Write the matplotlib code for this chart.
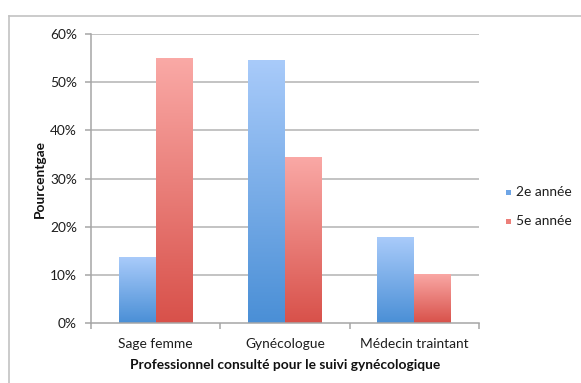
import numpy as np
import matplotlib
matplotlib.use("Agg")
import matplotlib.pyplot as plt
from matplotlib.colors import LinearSegmentedColormap
from matplotlib.lines import Line2D
from matplotlib.patches import Rectangle
from matplotlib.ticker import FuncFormatter, FixedLocator

categories = ["Sage femme", "Gynécologue", "Médecin traintant"]
series_names = ["2e année", "5e année"]
annee2 = [13.6, 54.7, 17.8]
annee5 = [55.0, 34.5, 10.2]

plt.rcParams["font.family"] = ["Lato", "DejaVu Sans"]

W, H = 581, 383
fig = plt.figure(figsize=(W / 100, H / 100), dpi=100)
fig.patch.set_facecolor("white")


def fx(px):
    return px / W


def fy(py):
    return 1 - py / H


# outer chart frame (only top and left edges visible)
frame_col = "#c2c2c2"
fig.add_artist(Line2D([fx(8.5), 1.0], [fy(15.5), fy(15.5)], color=frame_col, lw=1.2))
fig.add_artist(Line2D([fx(8.5), fx(8.5)], [0.0, fy(15.5)], color=frame_col, lw=1.2))

L, R, T, B = 91, 479, 34, 323
ax = fig.add_axes([fx(L), fy(B), (R - L) / W, (B - T) / H])

grid_col = "#b3b3b3"
for v in range(10, 61, 10):
    ax.axhline(v, color=grid_col, lw=1.1, zorder=0)

blue_cmap = LinearSegmentedColormap.from_list("b", ["#4a8fd6", "#a9cbfa"])
red_cmap = LinearSegmentedColormap.from_list("r", ["#d8514a", "#faa9a6"])

bw = 0.286
x = np.arange(len(categories)) + 0.5
grad = np.linspace(0, 1, 256).reshape(-1, 1)


def gradient_bar(x0, h, cmap):
    rect = Rectangle((x0, 0), bw, h, facecolor="none", edgecolor="none")
    ax.add_patch(rect)
    im = ax.imshow(grad, cmap=cmap, origin="lower", aspect="auto",
                   extent=(x0, x0 + bw, 0, h), zorder=2, interpolation="bilinear")
    im.set_clip_path(rect)


for xi, v in zip(x, annee2):
    gradient_bar(xi - bw, v, blue_cmap)
for xi, v in zip(x, annee5):
    gradient_bar(xi, v, red_cmap)

ax.set_xlim(0, 3)
ax.set_ylim(0, 60)

for s in ["top", "right"]:
    ax.spines[s].set_visible(False)
for s in ["left", "bottom"]:
    ax.spines[s].set_color("#a6a6a6")
    ax.spines[s].set_linewidth(1.1)

fs = 9.9
text_col = "#1e1e1e"
ax.yaxis.set_major_locator(FixedLocator(range(0, 61, 10)))
ax.yaxis.set_major_formatter(FuncFormatter(lambda v, p: f"{int(v)}%"))
ax.xaxis.set_major_locator(FixedLocator([0, 1, 2, 3]))
ax.xaxis.set_major_formatter(FuncFormatter(lambda v, p: ""))
ax.set_xticks(x, categories, minor=True)
ax.tick_params(axis="x", which="minor", length=0, pad=11, labelsize=fs, colors=text_col)
ax.tick_params(axis="x", which="major", length=4, width=1.1, color="#a6a6a6", direction="out")
ax.tick_params(axis="y", length=4, width=1.1, color="#a6a6a6", labelsize=fs,
               labelcolor=text_col, pad=6)

# axis titles
fig.text(fx(40), fy(179), "Pourcentgae", rotation=90, ha="center", va="center",
         fontsize=fs, fontweight="bold", color="#111111")
fig.text(fx(285), fy(365), "Professionnel consulté pour le suivi gynécologique",
         ha="center", va="center", fontsize=fs, fontweight="bold", color="#111111")

# legend
legend_cols = ["#6ea5e6", "#ec7f79"]
for yc, name, col in zip([192, 221], series_names, legend_cols):
    fig.add_artist(Rectangle((fx(505.5), fy(yc + 3)), 5.5 / W, 5.5 / H,
                             facecolor=col, edgecolor="none", transform=fig.transFigure))
    fig.text(fx(516), fy(yc), name, ha="left", va="center", fontsize=fs, color=text_col)

fig.savefig("out.png", dpi=100, facecolor="white")
